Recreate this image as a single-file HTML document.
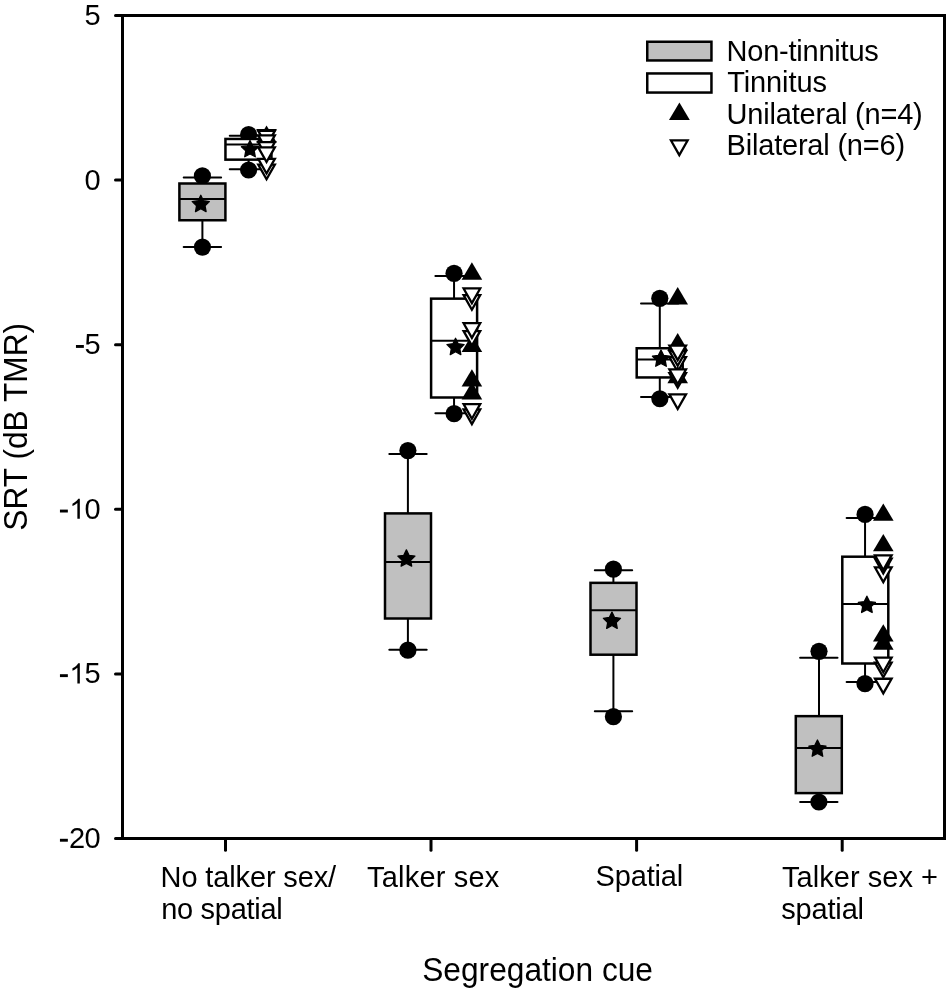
<!DOCTYPE html>
<html><head><meta charset="utf-8"><title>SRT by segregation cue</title>
<style>
html,body{margin:0;padding:0;background:#fff;}
body{width:948px;height:991px;overflow:hidden;}
svg{display:block;will-change:transform;}
text{font-family:"Liberation Sans",sans-serif;fill:#000;}
</style></head>
<body>
<svg width="948" height="991" viewBox="0 0 948 991">
<rect width="948" height="991" fill="#fff"/>
<rect x="122.5" y="15.5" width="822.0" height="823.0" fill="none" stroke="#000" stroke-width="3"/>
<line x1="115.5" y1="15.5" x2="122.5" y2="15.5" stroke="#000" stroke-width="3" stroke-linecap="round"/>
<text x="100.7" y="25" font-size="29" text-anchor="end" >5</text>
<line x1="115.5" y1="180.1" x2="122.5" y2="180.1" stroke="#000" stroke-width="3" stroke-linecap="round"/>
<text x="100.7" y="189.6" font-size="29" text-anchor="end" >0</text>
<line x1="115.5" y1="344.7" x2="122.5" y2="344.7" stroke="#000" stroke-width="3" stroke-linecap="round"/>
<text x="100.7" y="354.2" font-size="29" text-anchor="end" >5</text>
<rect x="75.95" y="345" width="7.9" height="2.9" fill="#000"/>
<line x1="115.5" y1="509.3" x2="122.5" y2="509.3" stroke="#000" stroke-width="3" stroke-linecap="round"/>
<text x="100.7" y="518.8" font-size="29" text-anchor="end" >0</text>
<path d="M763 0L583 0L583 1147Q518 1085 412 1023Q307 961 223 930L223 1104Q374 1175 487 1276Q600 1377 647 1466L763 1466Z" fill="#000" transform="translate(69.4,518.8) scale(0.013672,-0.013672)"/>
<rect x="59.95" y="509.6" width="7.9" height="2.9" fill="#000"/>
<line x1="115.5" y1="673.9" x2="122.5" y2="673.9" stroke="#000" stroke-width="3" stroke-linecap="round"/>
<text x="100.7" y="683.4" font-size="29" text-anchor="end" >5</text>
<path d="M763 0L583 0L583 1147Q518 1085 412 1023Q307 961 223 930L223 1104Q374 1175 487 1276Q600 1377 647 1466L763 1466Z" fill="#000" transform="translate(69.4,683.4) scale(0.013672,-0.013672)"/>
<rect x="59.95" y="674.2" width="7.9" height="2.9" fill="#000"/>
<line x1="115.5" y1="838.5" x2="122.5" y2="838.5" stroke="#000" stroke-width="3" stroke-linecap="round"/>
<text x="100.7" y="848" font-size="29" text-anchor="end" >0</text>
<text x="85.13" y="848" font-size="29" text-anchor="end" >2</text>
<rect x="59.95" y="838.8" width="7.9" height="2.9" fill="#000"/>
<line x1="225.5" y1="838.5" x2="225.5" y2="850.2" stroke="#000" stroke-width="3" stroke-linecap="round"/>
<line x1="431" y1="838.5" x2="431" y2="850.2" stroke="#000" stroke-width="3" stroke-linecap="round"/>
<line x1="636.6" y1="838.5" x2="636.6" y2="850.2" stroke="#000" stroke-width="3" stroke-linecap="round"/>
<line x1="842.2" y1="838.5" x2="842.2" y2="850.2" stroke="#000" stroke-width="3" stroke-linecap="round"/>
<line x1="202.4" y1="177.6" x2="202.4" y2="183.5" stroke="#000" stroke-width="2" stroke-linecap="butt"/>
<line x1="202.4" y1="220.25" x2="202.4" y2="247.1" stroke="#000" stroke-width="2" stroke-linecap="butt"/>
<line x1="183.7" y1="177.6" x2="221.1" y2="177.6" stroke="#000" stroke-width="2" stroke-linecap="round"/>
<line x1="183.7" y1="247.1" x2="221.1" y2="247.1" stroke="#000" stroke-width="2" stroke-linecap="round"/>
<circle cx="202.4" cy="175.9" r="8.6" fill="#000"/>
<circle cx="202.45" cy="247.1" r="8.6" fill="#000"/>
<rect x="179.4" y="183.5" width="46" height="36.75" fill="#c0c0c0" stroke="#000" stroke-width="2.5"/>
<line x1="179.4" y1="198.9" x2="225.4" y2="198.9" stroke="#000" stroke-width="2" stroke-linecap="butt"/>
<polygon points="200.8,195.3 203.42,200.7 209.36,201.52 205.03,205.68 206.09,211.58 200.8,208.75 195.51,211.58 196.57,205.68 192.24,201.52 198.18,200.7" fill="#000" stroke="#000" stroke-width="1.3" stroke-linejoin="round"/>
<line x1="248.6" y1="135.65" x2="248.6" y2="138.95" stroke="#000" stroke-width="2" stroke-linecap="butt"/>
<line x1="248.6" y1="159.65" x2="248.6" y2="169.35" stroke="#000" stroke-width="2" stroke-linecap="butt"/>
<line x1="229.75" y1="135.65" x2="267.15" y2="135.65" stroke="#000" stroke-width="2" stroke-linecap="round"/>
<line x1="229.75" y1="169.35" x2="267.15" y2="169.35" stroke="#000" stroke-width="2" stroke-linecap="round"/>
<circle cx="248.6" cy="134.6" r="8.6" fill="#000"/>
<circle cx="248.6" cy="170" r="8.6" fill="#000"/>
<rect x="225.45" y="138.95" width="46" height="20.7" fill="#fff" stroke="#000" stroke-width="2.5"/>
<line x1="225.45" y1="144.6" x2="271.45" y2="144.6" stroke="#000" stroke-width="2" stroke-linecap="butt"/>
<polygon points="250,140.5 252.62,145.9 258.56,146.72 254.23,150.88 255.29,156.78 250,153.95 244.71,156.78 245.77,150.88 241.44,146.72 247.38,145.9" fill="#000" stroke="#000" stroke-width="1.3" stroke-linejoin="round"/>
<polygon points="266.55,125.45 256.25,142.85 276.85,142.85" fill="#000"/>
<polygon points="258.25,164.65 274.85,164.65 266.55,179.25" fill="#fff" stroke="#000" stroke-width="2.3" stroke-miterlimit="10"/>
<polygon points="258.25,158.85 274.85,158.85 266.55,173.45" fill="#fff" stroke="#000" stroke-width="2.3" stroke-miterlimit="10"/>
<polygon points="258.25,130.25 274.85,130.25 266.55,144.85" fill="#fff" stroke="#000" stroke-width="2.3" stroke-miterlimit="10"/>
<polygon points="258.25,130.85 274.85,130.85 266.55,145.45" fill="#fff" stroke="#000" stroke-width="2.3" stroke-miterlimit="10"/>
<polygon points="258.25,135.35 274.85,135.35 266.55,149.95" fill="#fff" stroke="#000" stroke-width="2.3" stroke-miterlimit="10"/>
<polygon points="258.25,142.15 274.85,142.15 266.55,156.75" fill="#fff" stroke="#000" stroke-width="2.3" stroke-miterlimit="10"/>
<polygon points="258.25,147.35 274.85,147.35 266.55,161.95" fill="#fff" stroke="#000" stroke-width="2.3" stroke-miterlimit="10"/>
<line x1="407.9" y1="454.05" x2="407.9" y2="513.4" stroke="#000" stroke-width="2" stroke-linecap="butt"/>
<line x1="407.9" y1="618.5" x2="407.9" y2="649.8" stroke="#000" stroke-width="2" stroke-linecap="butt"/>
<line x1="389.3" y1="454.05" x2="426.7" y2="454.05" stroke="#000" stroke-width="2" stroke-linecap="round"/>
<line x1="389.3" y1="649.8" x2="426.7" y2="649.8" stroke="#000" stroke-width="2" stroke-linecap="round"/>
<circle cx="407.9" cy="450.55" r="8.6" fill="#000"/>
<circle cx="407.9" cy="650.2" r="8.6" fill="#000"/>
<rect x="385" y="513.4" width="46" height="105.1" fill="#c0c0c0" stroke="#000" stroke-width="2.5"/>
<line x1="385" y1="562" x2="431" y2="562" stroke="#000" stroke-width="2" stroke-linecap="butt"/>
<polygon points="406.4,549.9 409.02,555.3 414.96,556.12 410.63,560.28 411.69,566.18 406.4,563.35 401.11,566.18 402.17,560.28 397.84,556.12 403.78,555.3" fill="#000" stroke="#000" stroke-width="1.3" stroke-linejoin="round"/>
<line x1="454.05" y1="276.05" x2="454.05" y2="298.65" stroke="#000" stroke-width="2" stroke-linecap="butt"/>
<line x1="454.05" y1="397.5" x2="454.05" y2="413.35" stroke="#000" stroke-width="2" stroke-linecap="butt"/>
<line x1="435.4" y1="276.05" x2="472.8" y2="276.05" stroke="#000" stroke-width="2" stroke-linecap="round"/>
<line x1="435.4" y1="413.35" x2="472.8" y2="413.35" stroke="#000" stroke-width="2" stroke-linecap="round"/>
<circle cx="454.05" cy="273.3" r="8.6" fill="#000"/>
<circle cx="454.1" cy="413.7" r="8.6" fill="#000"/>
<rect x="431.1" y="298.65" width="46" height="98.85" fill="#fff" stroke="#000" stroke-width="2.5"/>
<line x1="431.1" y1="340.85" x2="477.1" y2="340.85" stroke="#000" stroke-width="2" stroke-linecap="butt"/>
<polygon points="455.55,338.3 458.17,343.7 464.11,344.52 459.78,348.68 460.84,354.58 455.55,351.75 450.26,354.58 451.32,348.68 446.99,344.52 452.93,343.7" fill="#000" stroke="#000" stroke-width="1.3" stroke-linejoin="round"/>
<polygon points="471.9,262.3 461.6,279.7 482.2,279.7" fill="#000"/>
<polygon points="463.6,295.15 480.2,295.15 471.9,309.75" fill="#fff" stroke="#000" stroke-width="2.3" stroke-miterlimit="10"/>
<polygon points="463.6,288.45 480.2,288.45 471.9,303.05" fill="#fff" stroke="#000" stroke-width="2.3" stroke-miterlimit="10"/>
<polygon points="471.9,334.7 461.6,352.1 482.2,352.1" fill="#000"/>
<polygon points="463.6,331.05 480.2,331.05 471.9,345.65" fill="#fff" stroke="#000" stroke-width="2.3" stroke-miterlimit="10"/>
<polygon points="463.6,323.2 480.2,323.2 471.9,337.8" fill="#fff" stroke="#000" stroke-width="2.3" stroke-miterlimit="10"/>
<polygon points="471.9,369.2 461.6,386.6 482.2,386.6" fill="#000"/>
<polygon points="471.9,382 461.6,399.4 482.2,399.4" fill="#000"/>
<polygon points="463.6,409.45 480.2,409.45 471.9,424.05" fill="#fff" stroke="#000" stroke-width="2.3" stroke-miterlimit="10"/>
<polygon points="463.6,404.15 480.2,404.15 471.9,418.75" fill="#fff" stroke="#000" stroke-width="2.3" stroke-miterlimit="10"/>
<line x1="613.4" y1="570.3" x2="613.4" y2="582.85" stroke="#000" stroke-width="2" stroke-linecap="butt"/>
<line x1="613.4" y1="654.7" x2="613.4" y2="711.25" stroke="#000" stroke-width="2" stroke-linecap="butt"/>
<line x1="594.8" y1="570.3" x2="632.2" y2="570.3" stroke="#000" stroke-width="2" stroke-linecap="round"/>
<line x1="594.8" y1="711.25" x2="632.2" y2="711.25" stroke="#000" stroke-width="2" stroke-linecap="round"/>
<circle cx="613.4" cy="569.15" r="8.6" fill="#000"/>
<circle cx="613.4" cy="716.65" r="8.6" fill="#000"/>
<rect x="590.5" y="582.85" width="46" height="71.85" fill="#c0c0c0" stroke="#000" stroke-width="2.5"/>
<line x1="590.5" y1="610.15" x2="636.5" y2="610.15" stroke="#000" stroke-width="2" stroke-linecap="butt"/>
<polygon points="611.95,612.1 614.57,617.5 620.51,618.32 616.18,622.48 617.24,628.38 611.95,625.55 606.66,628.38 607.72,622.48 603.39,618.32 609.33,617.5" fill="#000" stroke="#000" stroke-width="1.3" stroke-linejoin="round"/>
<line x1="659.8" y1="303.4" x2="659.8" y2="348.25" stroke="#000" stroke-width="2" stroke-linecap="butt"/>
<line x1="659.8" y1="377.45" x2="659.8" y2="397" stroke="#000" stroke-width="2" stroke-linecap="butt"/>
<line x1="641" y1="303.4" x2="678.4" y2="303.4" stroke="#000" stroke-width="2" stroke-linecap="round"/>
<line x1="641" y1="397" x2="678.4" y2="397" stroke="#000" stroke-width="2" stroke-linecap="round"/>
<circle cx="659.8" cy="298.3" r="8.6" fill="#000"/>
<circle cx="659.85" cy="398.75" r="8.6" fill="#000"/>
<rect x="636.7" y="348.25" width="46" height="29.2" fill="#fff" stroke="#000" stroke-width="2.5"/>
<line x1="636.7" y1="359.4" x2="682.7" y2="359.4" stroke="#000" stroke-width="2" stroke-linecap="butt"/>
<polygon points="661,350 663.62,355.4 669.56,356.22 665.23,360.38 666.29,366.28 661,363.45 655.71,366.28 656.77,360.38 652.44,356.22 658.38,355.4" fill="#000" stroke="#000" stroke-width="1.3" stroke-linejoin="round"/>
<polygon points="677.7,287.1 667.4,304.5 688,304.5" fill="#000"/>
<polygon points="677.7,333.1 667.4,350.5 688,350.5" fill="#000"/>
<polygon points="669.4,357.15 686,357.15 677.7,371.75" fill="#fff" stroke="#000" stroke-width="2.3" stroke-miterlimit="10"/>
<polygon points="669.4,351.15 686,351.15 677.7,365.75" fill="#fff" stroke="#000" stroke-width="2.3" stroke-miterlimit="10"/>
<polygon points="669.4,345.55 686,345.55 677.7,360.15" fill="#fff" stroke="#000" stroke-width="2.3" stroke-miterlimit="10"/>
<polygon points="677.7,365.8 667.4,383.2 688,383.2" fill="#000"/>
<polygon points="669.4,373.15 686,373.15 677.7,387.75" fill="#fff" stroke="#000" stroke-width="2.3" stroke-miterlimit="10"/>
<polygon points="669.4,369.45 686,369.45 677.7,384.05" fill="#fff" stroke="#000" stroke-width="2.3" stroke-miterlimit="10"/>
<polygon points="669.4,394.35 686,394.35 677.7,408.95" fill="#fff" stroke="#000" stroke-width="2.3" stroke-miterlimit="10"/>
<line x1="819" y1="657.8" x2="819" y2="716.15" stroke="#000" stroke-width="2" stroke-linecap="butt"/>
<line x1="819" y1="793.1" x2="819" y2="801.9" stroke="#000" stroke-width="2" stroke-linecap="butt"/>
<line x1="800.1" y1="657.8" x2="837.5" y2="657.8" stroke="#000" stroke-width="2" stroke-linecap="round"/>
<line x1="800.1" y1="801.9" x2="837.5" y2="801.9" stroke="#000" stroke-width="2" stroke-linecap="round"/>
<circle cx="819" cy="651.3" r="8.6" fill="#000"/>
<circle cx="818.9" cy="802" r="8.6" fill="#000"/>
<rect x="795.8" y="716.15" width="46" height="76.95" fill="#c0c0c0" stroke="#000" stroke-width="2.5"/>
<line x1="795.8" y1="747.9" x2="841.8" y2="747.9" stroke="#000" stroke-width="2" stroke-linecap="butt"/>
<polygon points="817.45,740 820.07,745.4 826.01,746.22 821.68,750.38 822.74,756.28 817.45,753.45 812.16,756.28 813.22,750.38 808.89,746.22 814.83,745.4" fill="#000" stroke="#000" stroke-width="1.3" stroke-linejoin="round"/>
<line x1="865.05" y1="518.05" x2="865.05" y2="556.7" stroke="#000" stroke-width="2" stroke-linecap="butt"/>
<line x1="865.05" y1="663.5" x2="865.05" y2="682.1" stroke="#000" stroke-width="2" stroke-linecap="butt"/>
<line x1="846.6" y1="518.05" x2="884" y2="518.05" stroke="#000" stroke-width="2" stroke-linecap="round"/>
<line x1="846.6" y1="682.1" x2="884" y2="682.1" stroke="#000" stroke-width="2" stroke-linecap="round"/>
<circle cx="865.05" cy="514.45" r="8.6" fill="#000"/>
<circle cx="865" cy="683.7" r="8.6" fill="#000"/>
<rect x="842.3" y="556.7" width="46" height="106.8" fill="#fff" stroke="#000" stroke-width="2.5"/>
<line x1="842.3" y1="603.9" x2="888.3" y2="603.9" stroke="#000" stroke-width="2" stroke-linecap="butt"/>
<polygon points="866.9,596.2 869.52,601.6 875.46,602.42 871.13,606.58 872.19,612.48 866.9,609.65 861.61,612.48 862.67,606.58 858.34,602.42 864.28,601.6" fill="#000" stroke="#000" stroke-width="1.3" stroke-linejoin="round"/>
<polygon points="883.3,503.4 873,520.8 893.6,520.8" fill="#000"/>
<polygon points="883.3,533.9 873,551.3 893.6,551.3" fill="#000"/>
<polygon points="875,567.45 891.6,567.45 883.3,582.05" fill="#fff" stroke="#000" stroke-width="2.3" stroke-miterlimit="10"/>
<polygon points="875,558.75 891.6,558.75 883.3,573.35" fill="#fff" stroke="#000" stroke-width="2.3" stroke-miterlimit="10"/>
<polygon points="875,555.35 891.6,555.35 883.3,569.95" fill="#fff" stroke="#000" stroke-width="2.3" stroke-miterlimit="10"/>
<polygon points="883.3,624.2 873,641.6 893.6,641.6" fill="#000"/>
<polygon points="883.3,632.4 873,649.8 893.6,649.8" fill="#000"/>
<polygon points="875,662.65 891.6,662.65 883.3,677.25" fill="#fff" stroke="#000" stroke-width="2.3" stroke-miterlimit="10"/>
<polygon points="875,657.65 891.6,657.65 883.3,672.25" fill="#fff" stroke="#000" stroke-width="2.3" stroke-miterlimit="10"/>
<polygon points="875,678.75 891.6,678.75 883.3,693.35" fill="#fff" stroke="#000" stroke-width="2.3" stroke-miterlimit="10"/>
<rect x="647.25" y="41.75" width="64.2" height="18.7" fill="#c0c0c0" stroke="#000" stroke-width="2.5"/>
<rect x="647.25" y="73.45" width="64.2" height="19.1" fill="#fff" stroke="#000" stroke-width="2.5"/>
<polygon points="679.4,102.6 669,120.1 689.8,120.1" fill="#000"/>
<polygon points="671,140.45 687.6,140.45 679.3,155.05" fill="#fff" stroke="#000" stroke-width="2.3" stroke-miterlimit="10"/>
<text x="726.51" y="61.05" font-size="29" text-anchor="start" letter-spacing="-0.223" >Non-tinnitus</text>
<text x="727.14" y="92" font-size="29" text-anchor="start" letter-spacing="-0.092" >Tinnitus</text>
<text x="726.55" y="123.7" font-size="29" text-anchor="start" letter-spacing="-0.191" >Unilateral (n=4)</text>
<text x="726.61" y="155.1" font-size="29" text-anchor="start" letter-spacing="-0.205" >Bilateral (n=6)</text>
<text x="160.61" y="886.9" font-size="29" text-anchor="start" letter-spacing="-0.138" >No talker sex/</text>
<text x="161.15" y="918.9" font-size="29" text-anchor="start" letter-spacing="-0.277" >no spatial</text>
<text x="367.04" y="886.8" font-size="29" text-anchor="start" letter-spacing="0.194" >Talker sex</text>
<text x="595.56" y="886.3" font-size="29" text-anchor="start" letter-spacing="-0.165" >Spatial</text>
<text x="782.04" y="886.8" font-size="29" text-anchor="start" letter-spacing="0.042" >Talker sex +</text>
<text x="781.24" y="918.9" font-size="29" text-anchor="start" letter-spacing="-0.173" >spatial</text>
<text x="0" y="0" font-size="33" text-anchor="start" transform="translate(422.2,980.5) scale(0.9606,1)">Segregation cue</text>
<text x="0" y="0" font-size="33" text-anchor="start" transform="translate(27,530.64) rotate(-90) scale(0.9606,1)">SRT (dB TMR)</text>
</svg>
</body></html>
